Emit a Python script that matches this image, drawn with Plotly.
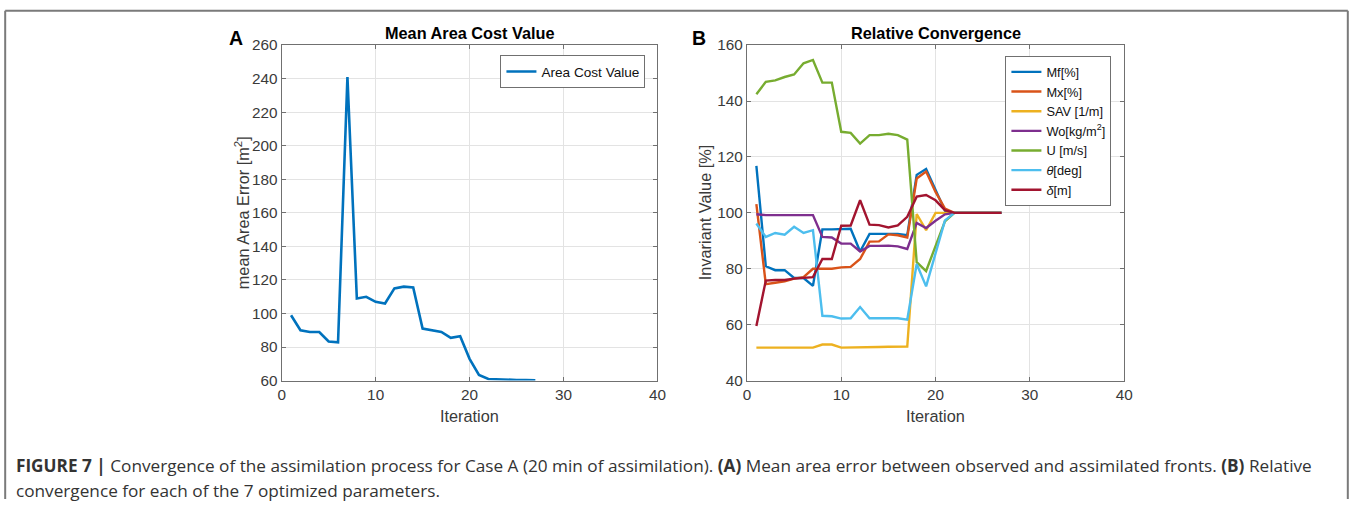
import plotly.graph_objects as go

W, H = 1358, 507
# The photographed page shows the figure offset by the body margin (8px) and
# scaled to fit a 1374x523 area; reference pixels are mapped through this.
OFF = 8
SX, SY = 1358 / 1374, 507 / 523

# ---- data ----
iterations = list(range(1, 28))
area_cost = [99, 90, 89, 89, 83.3, 82.8, 241, 109, 110, 107, 106, 115, 116, 115.5,
             91, 90, 89, 85.5, 86.5, 73, 63.4, 61, 60.7, 60.6, 60.4, 60.3, 60.2]

mf = [116.8, 80.9, 79.5, 79.5, 76.7, 76.7, 73.9, 94.1, 94.1, 94.3, 94.3, 86.2, 92.5, 92.5,
      92.5, 92.5, 92, 113.6, 115.7, 108.5, 100.8, 100, 100, 100, 100, 100, 100]
mx = [103.1, 74.5, 75, 75.5, 76.5, 77, 80, 80, 80, 80.5, 80.7, 83.5, 89.7, 89.8,
      92.3, 92, 91.2, 112.3, 114.8, 107.5, 101.5, 100, 100, 100, 100, 100, 100]
sav = [51.8, 51.8, 51.8, 51.8, 51.8, 51.8, 51.8, 52.9, 52.9, 51.8, 51.8, 51.8, 51.9, 52,
       52.1, 52.2, 52.2, 99.6, 93.8, 100, 100, 100, 100, 100, 100, 100, 100]
wo = [99.5, 99.2, 99.2, 99.2, 99.2, 99.2, 99.2, 91.4, 91.2, 89, 89, 86.2, 88.2, 88.2,
      88.3, 88, 87.1, 96.4, 94.6, 97.2, 99.5, 100, 100, 100, 100, 100, 100]
u = [142.4, 146.9, 147.4, 148.6, 149.5, 153.5, 154.7, 146.6, 146.6, 129, 128.6, 124.8, 127.8, 127.8,
     128.3, 127.8, 126.2, 82.4, 79.2, 88, 97, 100, 100, 100, 100, 100, 100]
theta = [96.2, 91.4, 92.8, 92.2, 95, 92.8, 93.8, 63.2, 63, 62.2, 62.3, 66.3, 62.3, 62.3,
         62.3, 62.3, 61.8, 81.7, 73.7, 86, 97.3, 100, 100, 100, 100, 100, 100]
delta = [59.5, 75.8, 76, 76, 76.5, 76.8, 77, 83.5, 83.5, 95.4, 95.5, 104.5, 95.8, 95.6,
         94.8, 95.5, 98.6, 105.8, 106.4, 104.5, 101, 100, 100, 100, 100, 100, 100]

series_names = ["Mf[%]", "Mx[%]", "SAV [1/m]", "Wo[kg/m<sup>2</sup>]", "U [m/s]",
                "<i>θ</i>[deg]", "<i>δ</i>[m]"]
series_vals = [mf, mx, sav, wo, u, theta, delta]
series_colors = ["#0072BD", "#D95319", "#EDB120", "#7E2F8E", "#77AC30", "#4DBEEE", "#A2142F"]

x_ticks = [0, 10, 20, 30, 40]
left_y_ticks = list(range(60, 261, 20))
right_y_ticks = list(range(40, 161, 20))

# ---- layout helpers (reference pixels -> paper) ----
def px_x(p):
    return (p / SX - OFF) / W

def px_y(p):
    return 1 - (p / SY - OFF) / H

FONT = "Liberation Sans, Arial, Helvetica, sans-serif"
CAPFONT = "Open Sans, Liberation Sans, Arial, sans-serif"
TICKC = "#3a3a3a"
LINEC = "#707070"

fig = go.Figure()

fig.add_trace(go.Scatter(x=iterations, y=area_cost, mode="lines", name="Area Cost Value",
                         line=dict(color="#0072BD", width=2.6), xaxis="x", yaxis="y",
                         legend="legend"))

for name, vals, col in zip(series_names, series_vals, series_colors):
    fig.add_trace(go.Scatter(x=iterations, y=vals, mode="lines", name=name,
                             line=dict(color=col, width=2.4), xaxis="x2", yaxis="y2",
                             legend="legend2"))

axis_common = dict(showline=True, linecolor=LINEC, linewidth=1, mirror="ticks",
                   ticks="inside", ticklen=4, tickcolor=LINEC,
                   showgrid=True, gridcolor="#e3e3e3", gridwidth=1, zeroline=False,
                   tickfont=dict(family=FONT, size=15.3, color=TICKC))

ydom = [px_y(380.5), px_y(44)]

fig.update_layout(
    width=W, height=H,
    margin=dict(l=0, r=0, t=0, b=0),
    paper_bgcolor="white", plot_bgcolor="white",
    font=dict(family=FONT, color=TICKC),
    xaxis=dict(domain=[px_x(285), px_x(660)], range=[0, 40], tickvals=x_ticks, anchor="y",
               **axis_common),
    yaxis=dict(domain=ydom, range=[60, 260], tickvals=left_y_ticks, anchor="x",
               **axis_common),
    xaxis2=dict(domain=[px_x(749.3), px_x(1125.7)], range=[0, 40], tickvals=x_ticks, anchor="y2",
                **axis_common),
    yaxis2=dict(domain=ydom, range=[40, 160], tickvals=right_y_ticks, anchor="x2",
                **axis_common),
    legend=dict(x=px_x(648), y=px_y(54), xanchor="right", yanchor="top",
                bordercolor=LINEC, borderwidth=1, bgcolor="white",
                font=dict(family=FONT, size=13.6, color="#111"), tracegroupgap=0),
    legend2=dict(x=px_x(1113), y=px_y(55), xanchor="right", yanchor="top",
                 bordercolor=LINEC, borderwidth=1, bgcolor="white",
                 font=dict(family=FONT, size=12.8, color="#111"), tracegroupgap=0),
    showlegend=True,
)

def note(text, x, y, size, color="#000", family=FONT, xanchor="center", **kw):
    fig.add_annotation(text=text, x=px_x(x), y=px_y(y), xref="paper", yref="paper",
                       showarrow=False, font=dict(family=family, size=size, color=color),
                       xanchor=xanchor, yanchor="middle", **kw)

# titles and panel letters
note("<b>Mean Area Cost Value</b>", 472.5, 32, 16.3)
note("<b>Relative Convergence</b>", 937.5, 32, 16.3)
note("<b>A</b>", 239, 37, 19.5)
note("<b>B</b>", 701, 37, 19.5)

# axis titles
note("Iteration", 472.5, 416, 16.3, TICKC)
note("Iteration", 937.5, 416, 16.3, TICKC)
note("mean Area Error [m<sup>2</sup>]", 245, 212, 16.3, TICKC, textangle=-90)
note("Invariant Value [%]", 707, 212, 16.3, TICKC, textangle=-90)

# caption
cap1 = ("<b>FIGURE 7 |</b> Convergence of the assimilation process for Case A (20 min of assimilation). "
        "<b>(A)</b> Mean area error between observed and assimilated fronts. <b>(B)</b> Relative")
cap2 = "convergence for each of the 7 optimized parameters."
note(cap1, 18, 466, 17.2, "#333", family=CAPFONT, xanchor="left")
note(cap2, 18, 491, 17.2, "#333", family=CAPFONT, xanchor="left")

# frame around figure (left, top, right edges; kept inside the paper)
frame = dict(color="#7a7a7a", width=2)
fx0, fx1, fy1 = 1.2 / W, 1356.8 / W, px_y(9.5)
fig.add_shape(type="line", xref="paper", yref="paper", x0=fx0, x1=fx0, y0=0, y1=fy1, line=frame)
fig.add_shape(type="line", xref="paper", yref="paper", x0=fx0, x1=fx1, y0=fy1, y1=fy1, line=frame)
fig.add_shape(type="line", xref="paper", yref="paper", x0=fx1, x1=fx1, y0=0, y1=fy1, line=frame)

fig.write_html("out.html")
